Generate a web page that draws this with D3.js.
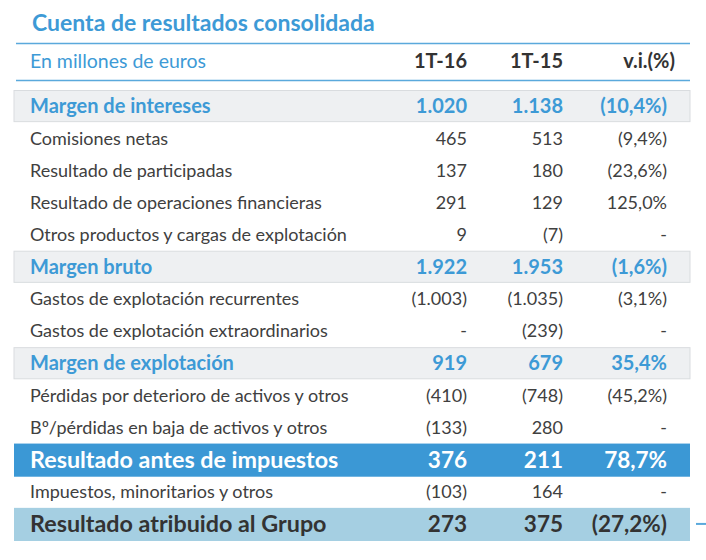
<!DOCTYPE html>
<html><head><meta charset="utf-8">
<script src="https://cdn.jsdelivr.net/npm/d3@7"></script>
<style>body{margin:0;background:#fff}</style>
</head><body>
<script>
const title = "Cuenta de resultados consolidada";
const unitLabel = "En millones de euros";
const columns = ["1T-16", "1T-15", "v.i.(%)"];
const labels = [
  "Margen de intereses","Comisiones netas","Resultado de participadas",
  "Resultado de operaciones financieras","Otros productos y cargas de explotación",
  "Margen bruto","Gastos de explotación recurrentes","Gastos de explotación extraordinarios",
  "Margen de explotación","Pérdidas por deterioro de activos y otros",
  "Bº/pérdidas en baja de activos y otros","Resultado antes de impuestos",
  "Impuestos, minoritarios y otros","Resultado atribuido al Grupo"
];
const values1T16 = ["1.020","465","137","291","9","1.922","(1.003)","-","919","(410)","(133)","376","(103)","273"];
const values1T15 = ["1.138","513","180","129","(7)","1.953","(1.035)","(239)","679","(748)","280","211","164","375"];
const variation = ["(10,4%)","(9,4%)","(23,6%)","125,0%","-","(1,6%)","(3,1%)","-","35,4%","(45,2%)","-","78,7%","-","(27,2%)"];
const rowTypes = ["margin","item","item","item","item","margin","item","item","margin","item","item","pretax","item","net"];

const W = 706, H = 560;
const FONT = "Lato, 'Noto Sans', sans-serif";
const svg = d3.select("body").append("svg").attr("width", W).attr("height", H);

const y = d3.scaleBand().domain(d3.range(labels.length)).range([90, 540]).padding(0);
const x = d3.scaleOrdinal().domain(["label", ...columns]).range([30, 467, 563, 667]);

// title
svg.append("text").attr("x", 32).attr("y", 31).text(title)
  .attr("font-family", FONT).attr("font-size", 23).attr("font-weight", 700).attr("fill", "#3d9ad6");
svg.append("line").attr("x1", 16).attr("x2", 690).attr("y1", 43.5).attr("y2", 43.5).attr("stroke", "#5aa9dc").attr("stroke-width", 1.5);
svg.append("text").attr("x", 30).attr("y", 68).text(unitLabel)
  .attr("font-family", FONT).attr("font-size", 19.5).attr("fill", "#3d9ad6");
columns.forEach((c, i) => {
  svg.append("text").attr("x", i === 2 ? 675 : x(c)).attr("y", 68).attr("text-anchor", "end").text(c)
    .attr("font-family", FONT).attr("font-size", 20).attr("font-weight", 700).attr("fill", "#333");
});
svg.append("line").attr("x1", 16).attr("x2", 690).attr("y1", 80.5).attr("y2", 80.5).attr("stroke", "#5aa9dc").attr("stroke-width", 1.5);

const style = {
  margin: {fill: "#eef0f2", stroke: "#d9dcdf", color: "#3d9ad6", weight: 700, size: 20, lsize: 20},
  item:   {fill: null, color: "#404040", weight: 400, size: 18, lsize: 18},
  pretax: {fill: "#3b98d5", stroke: null, color: "#ffffff", weight: 700, size: 22.5, lsize: 23.3},
  net:    {fill: "#a5cfe2", stroke: null, color: "#333333", weight: 700, size: 22.5, lsize: 23.3}
};

const rows = svg.selectAll("g.row").data(labels.map((l, i) => ({l, i, t: rowTypes[i]})))
  .join("g").attr("class", "row").attr("transform", d => `translate(0,${y(d.i)})`);

rows.filter(d => style[d.t].fill).append("rect")
  .attr("x", 14).attr("width", 676).attr("y", d => d.t === "margin" ? 0.5 : 0)
  .attr("height", d => d.t === "margin" ? y.bandwidth() - 1 : y.bandwidth() + 1)
  .attr("fill", d => style[d.t].fill)
  .attr("stroke", d => style[d.t].stroke || "none");

const mid = y.bandwidth() / 2;
rows.append("text").attr("x", x("label")).attr("y", mid).attr("dy", "0.35em").text(d => d.l)
  .attr("font-family", FONT).attr("font-size", d => style[d.t].lsize).attr("font-weight", d => style[d.t].weight).attr("fill", d => style[d.t].color);
const colVals = [values1T16, values1T15, variation];
columns.forEach((c, ci) => {
  rows.append("text").attr("x", x(c)).attr("y", mid).attr("dy", "0.35em").attr("text-anchor", "end")
    .text(d => colVals[ci][d.i])
    .attr("font-family", FONT).attr("font-size", d => style[d.t].size).attr("font-weight", d => style[d.t].weight).attr("fill", d => style[d.t].color);
});

// small marker at right of last row
svg.append("line").attr("x1", 696).attr("x2", 706).attr("y1", y(13) + mid).attr("y2", y(13) + mid).attr("stroke", "#5aa9dc").attr("stroke-width", 2);
</script>
</body></html>
